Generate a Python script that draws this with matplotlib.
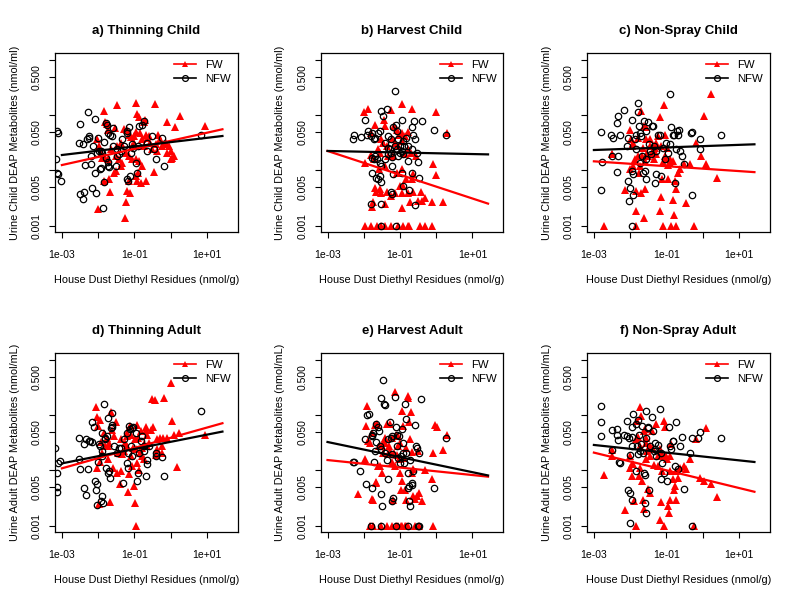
"""
House dust diethyl residues vs urine DEAP metabolites - 6 panel scatter
"""

import numpy as np
import matplotlib
matplotlib.use('Agg')
import matplotlib.pyplot as plt
from matplotlib.lines import Line2D

plt.rcParams['font.family'] = ['Liberation Sans', 'DejaVu Sans']

RED = '#FF0000'
BLACK = '#000000'

# Data: (log10 residue nmol/g, log10 metabolite nmol/ml)
A_FW = [(-1.83,-0.93),(-1.47,-0.81),(-0.96,-0.78),(-0.44,-0.80),(0.25,-1.02),(0.94,-1.19),(-0.11,-1.13),(0.13,-1.22),
        (-0.92,-0.98),(-0.87,-1.04),(-0.71,-1.08),(-0.72,-1.12),(-1.82,-1.12),(-1.76,-1.16),(-1.72,-1.27),(-1.53,-1.24),
        (-1.28,-1.25),(-1.21,-1.27),(-1.15,-1.35),(-1.10,-1.39),(-1.01,-1.38),(-0.96,-1.30),(-0.84,-1.32),(-0.78,-1.44),
        (-0.68,-1.35),(-0.64,-1.42),(-0.60,-1.38),(-0.57,-1.50),(-0.41,-1.53),(-0.35,-1.35),(-0.29,-1.44),(-0.24,-1.56),
        (-0.18,-1.53),(-0.14,-1.50),(-0.05,-1.56),(0.0,-1.65),(0.05,-1.77),(0.02,-1.80),(-0.09,-1.68),(-2.04,-1.44),
        (-1.97,-1.56),(-1.93,-1.68),(-1.88,-1.77),(-1.83,-1.74),(-1.74,-1.80),(-1.65,-1.62),(-1.51,-1.74),(-1.42,-1.80),
        (-1.33,-1.86),(-1.24,-1.68),(-1.15,-1.74),(-1.06,-1.80),(-0.96,-1.80),(-0.87,-1.83),(-0.78,-1.92),(-0.90,-2.04),
        (-1.56,-2.04),(-1.51,-2.01),(-1.70,-2.16),(-1.85,-2.19),(-1.38,-1.92),(-1.15,-2.19),(-0.96,-2.10),(-0.92,-2.19),
        (-0.83,-2.22),(-0.67,-2.19),(-0.46,-2.03),(-1.19,-2.38),(-1.13,-2.41),(-1.23,-2.58),(-1.25,-2.86),(-1.99,-2.70),
        (-1.67,-2.39),(-0.37,-1.65),(-0.50,-1.62),(0.09,-1.74),(-1.01,-1.50),(-1.47,-1.56),(-1.38,-1.50),(-1.06,-1.56),
        (-0.73,-1.56)]
A_NFW = [(-3.14,-1.28),(-3.10,-1.33),(-3.17,-1.80),(-3.14,-2.04),(-3.10,-2.07),(-3.03,-2.19),(-2.50,-1.16),(-2.54,-1.51),
         (-2.28,-0.95),(-2.09,-1.06),(-2.25,-1.38),(-2.31,-1.44),(-2.43,-1.53),(-2.14,-1.56),(-2.00,-1.41),(-1.97,-1.65),
         (-2.25,-1.42),(-2.35,-1.90),(-2.20,-1.88),(-2.08,-2.04),(-2.16,-2.32),(-2.05,-2.41),(-2.50,-2.42),(-2.40,-2.39),
         (-2.43,-2.51),(-1.86,-2.68),(-1.76,-1.18),(-1.79,-1.15),(-1.74,-1.32),(-1.83,-1.48),(-1.67,-1.35),(-1.60,-1.24),
         (-1.62,-1.38),(-1.93,-1.65),(-1.88,-1.69),(-1.78,-1.77),(-1.72,-1.85),(-1.74,-1.92),(-1.93,-1.95),(-1.95,-1.97),
         (-1.83,-2.21),(-1.69,-1.93),(-1.58,-1.56),(-1.49,-1.74),(-1.42,-1.71),(-1.33,-1.44),(-1.28,-1.56),(-1.19,-1.32),
         (-1.15,-1.21),(-1.21,-1.28),(-1.17,-2.19),(-1.21,-2.16),(-1.13,-2.10),(-1.07,-1.53),(-0.96,-1.87),(-0.92,-2.04),
         (-0.87,-1.19),(-0.78,-1.18),(-0.73,-1.10),(-0.64,-1.51),(-0.64,-1.65),(-0.50,-1.38),(-0.46,-1.62),(-0.39,-1.80),
         (-0.23,-1.41),(-0.17,-1.92),(0.85,-1.35),(-1.49,-1.62),(-1.36,-1.65),(-1.10,-1.68),(-0.90,-1.56),(-1.03,-1.59),
         (-2.02,-1.68),(-2.20,-1.74),(-1.51,-1.92)]

B_FW = [(-1.99,-0.94),(-1.89,-0.88),(-1.25,-0.91),(-0.93,-0.80),(-0.68,-0.88),(-0.01,-0.95),(0.31,-1.32),(-1.80,-1.32),
        (-1.69,-1.18),(-1.43,-1.08),(-1.40,-1.19),(-1.16,-1.19),(-1.09,-1.27),(-1.02,-1.35),(-0.93,-1.32),(-0.86,-1.38),
        (-0.79,-1.30),(-1.97,-1.86),(-1.80,-1.73),(-1.71,-1.80),(-1.60,-1.62),(-1.55,-1.68),(-1.51,-1.44),(-1.46,-1.50),
        (-1.37,-1.56),(-1.23,-1.44),(-1.14,-1.50),(-1.05,-1.56),(-0.95,-1.47),(-0.86,-1.71),(-0.79,-1.62),(-0.70,-1.68),
        (-0.68,-2.16),(-0.63,-2.07),(-0.57,-1.74),(-0.08,-1.89),(-0.00,-2.08),(-1.69,-2.32),(-1.65,-2.39),(-1.55,-2.33),
        (-1.51,-2.41),(-1.37,-2.39),(-1.25,-2.47),(-1.14,-2.41),(-1.00,-2.28),(-0.95,-2.41),(-0.91,-2.28),(-0.77,-2.41),
        (-0.63,-2.39),(-0.42,-2.39),(-0.31,-2.50),(-0.49,-2.56),(-0.40,-2.56),(-0.12,-2.57),(0.20,-2.57),(-1.78,-2.66),
        (-1.74,-2.58),(-1.40,-2.60),(-0.94,-2.69),(-0.71,-2.58),(-1.97,-3.0),(-1.80,-3.0),(-1.62,-3.0),(-1.51,-3.0),
        (-1.40,-3.0),(-1.25,-3.0),(-1.06,-3.0),(-0.91,-3.0),(-0.79,-3.0),(-0.75,-3.0),(-0.45,-3.0),(-0.31,-3.0),
        (-0.12,-3.0),(-1.58,-1.98),(-1.41,-1.92),(-1.09,-2.04),(-0.94,-1.98),(-0.82,-2.16),(-1.18,-1.74),(-1.32,-1.74)]
B_NFW = [(-2.29,-1.44),(-2.26,-1.36),(-2.08,-1.39),(-1.97,-1.08),(-1.92,-1.35),(-1.88,-1.28),(-1.80,-1.38),(-1.77,-1.33),
         (-1.71,-1.44),(-1.69,-1.41),(-1.60,-1.32),(-1.55,-1.28),(-1.51,-0.92),(-1.46,-1.01),(-1.37,-0.89),(-1.32,-1.38),
         (-1.25,-1.44),(-1.18,-1.22),(-1.14,-0.56),(-1.11,-1.18),(-1.09,-1.28),(-1.05,-1.44),(-1.00,-1.56),(-0.95,-1.08),
         (-0.91,-1.47),(-0.82,-1.41),(-0.77,-1.56),(-0.68,-1.22),(-0.65,-1.35),(-0.60,-1.10),(-0.59,-1.44),(-0.54,-1.68),
         (-0.51,-1.85),(-0.40,-1.10),(-0.05,-1.27),(0.27,-1.36),(-1.78,-1.77),(-1.71,-1.79),(-1.69,-1.74),(-1.62,-1.80),
         (-1.55,-1.86),(-1.51,-1.92),(-1.41,-1.80),(-1.34,-1.71),(-1.28,-1.62),(-1.25,-1.68),(-1.21,-1.75),(-1.14,-1.56),
         (-1.09,-1.62),(-1.05,-1.74),(-1.00,-1.68),(-0.95,-1.65),(-0.91,-1.71),(-0.88,-1.56),(-0.77,-1.83),(-0.68,-1.62),
         (-1.77,-2.05),(-1.65,-2.13),(-1.60,-2.16),(-1.51,-2.21),(-1.55,-2.10),(-1.25,-2.39),(-1.23,-2.42),(-1.18,-2.07),
         (-0.93,-2.04),(-0.91,-2.28),(-0.75,-2.35),(-0.68,-2.04),(-0.47,-2.13),(-0.59,-2.62),(-1.80,-2.61),(-1.51,-2.60),
         (-1.51,-3.0),(-1.12,-3.0),(-1.23,-1.92),(-1.41,-1.50),(-1.32,-1.59)]

C_FW = [(-2.72,-3.0),(-2.51,-1.71),(-2.49,-1.71),(-2.15,-2.35),(-2.01,-1.27),(-1.98,-1.44),(-1.96,-1.56),(-1.87,-1.80),
        (-1.84,-2.38),(-1.84,-3.0),(-1.83,-2.74),(-1.78,-1.41),(-1.73,-1.92),(-1.69,-2.41),(-1.69,-0.92),(-1.66,-1.74),
        (-1.64,-1.59),(-1.62,-2.86),(-1.62,-1.19),(-1.60,-2.33),(-1.57,-1.44),(-1.55,-1.22),(-1.53,-1.68),(-1.50,-1.74),
        (-1.46,-1.44),(-1.41,-1.68),(-1.35,-1.79),(-1.32,-1.59),(-1.28,-1.71),(-1.23,-1.38),(-1.18,-1.04),(-1.18,-2.74),
        (-1.14,-2.48),(-1.11,-2.16),(-1.09,-1.85),(-1.09,-3.0),(-1.07,-0.82),(-1.05,-1.35),(-1.00,-1.77),(-0.98,-1.59),
        (-0.95,-2.16),(-0.91,-1.80),(-0.86,-3.0),(-0.83,-1.83),(-0.82,-2.53),(-0.80,-2.80),(-0.77,-2.19),(-0.74,-2.33),
        (-0.72,-3.0),(-0.68,-2.04),(-0.63,-1.97),(-0.52,-1.88),(-0.47,-2.59),(-0.36,-1.89),(-0.24,-3.0),(-0.17,-1.51),
        (-0.04,-1.74),(0.03,-1.02),(0.10,-1.89),(0.24,-0.62),(0.39,-2.13),(-2.01,-1.98),(-1.92,-1.92),(-1.75,-2.04),
        (-1.60,-1.83),(-1.37,-1.65),(-1.14,-1.56),(-0.95,-1.91),(-0.91,-1.86),(-1.05,-1.74),(-1.28,-1.50),(-1.46,-1.56),
        (-1.78,-1.74),(-1.92,-1.50)]
C_NFW = [(-2.81,-1.30),(-2.79,-1.85),(-2.81,-2.35),(-2.53,-1.35),(-2.47,-1.42),(-2.49,-1.74),(-2.33,-1.74),(-2.36,-2.03),
         (-2.28,-1.36),(-2.35,-1.15),(-2.33,-1.01),(-2.17,-0.91),(-2.10,-1.56),(-2.06,-1.42),(-2.07,-2.19),(-2.03,-2.56),
         (-1.96,-2.01),(-1.99,-2.32),(-1.94,-1.08),(-1.92,-2.07),(-1.92,-2.44),(-1.94,-3.0),(-1.87,-1.44),(-1.84,-1.36),
         (-1.83,-1.62),(-1.78,-0.94),(-1.78,-0.77),(-1.75,-1.19),(-1.73,-1.32),(-1.69,-1.38),(-1.66,-1.74),(-1.64,-2.04),
         (-1.62,-1.10),(-1.60,-2.01),(-1.57,-2.16),(-1.55,-1.28),(-1.50,-1.12),(-1.48,-1.53),(-1.46,-1.65),(-1.43,-1.71),
         (-1.39,-1.19),(-1.37,-1.19),(-1.32,-2.22),(-1.28,-2.07),(-1.23,-1.35),(-1.18,-1.35),(-1.14,-2.10),(-1.05,-1.80),
         (-1.00,-1.50),(-0.91,-0.61),(-0.89,-1.53),(-0.86,-1.22),(-0.83,-1.35),(-0.80,-1.35),(-0.77,-2.22),(-0.72,-1.62),
         (-0.71,-1.28),(-0.68,-1.35),(-0.66,-1.27),(-0.63,-1.65),(-0.56,-1.74),(-0.50,-1.89),(-0.31,-1.32),(-0.28,-1.30),
         (-0.29,-2.45),(-0.06,-1.44),(-0.06,-1.62),(0.51,-1.36),(-1.73,-1.86),(-1.55,-1.80),(-1.35,-1.56),(-1.09,-1.59),
         (-1.28,-1.65),(-0.95,-1.68)]

D_FW = [(-2.06,-0.86),(-2.02,-1.04),(-1.94,-1.08),(-1.99,-1.19),(-1.93,-1.48),(-1.85,-1.32),(-1.82,-1.56),(-1.76,-1.42),
        (-1.72,-1.56),(-1.70,-1.50),(-1.65,-0.95),(-1.61,-1.27),(-1.56,-1.38),(-1.51,-1.12),(-1.47,-2.04),(-1.39,-2.24),
        (-1.36,-2.01),(-1.33,-1.71),(-1.27,-1.50),(-1.21,-1.56),(-1.21,-1.32),(-1.19,-1.38),(-1.17,-2.39),(-1.15,-2.07),
        (-1.12,-1.19),(-1.10,-1.36),(-1.08,-1.74),(-1.06,-1.92),(-1.01,-2.28),(-0.99,-2.59),(-0.96,-3.0),(-0.96,-1.62),
        (-0.94,-1.18),(-0.92,-1.86),(-0.90,-1.41),(-0.87,-2.00),(-0.84,-1.68),(-0.83,-1.28),(-0.78,-1.74),(-0.73,-1.79),
        (-0.72,-1.53),(-0.69,-1.27),(-0.67,-1.21),(-0.64,-1.35),(-0.60,-1.50),(-0.53,-1.27),(-0.50,-0.70),(-0.48,-1.21),
        (-0.44,-0.72),(-0.41,-1.73),(-0.37,-1.44),(-0.30,-1.42),(-0.23,-1.68),(-0.20,-1.41),(-0.17,-0.68),(-0.11,-1.41),
        (0.00,-0.41),(0.05,-1.10),(0.09,-1.35),(0.17,-1.93),(0.23,-1.32),(0.94,-1.36),(-2.02,-1.95),(-1.94,-1.85),
        (-1.88,-1.69),(-1.67,-2.58),(-1.74,-1.79),(-1.97,-2.60),(-1.58,-1.95),(-1.45,-1.68),(-1.28,-1.65),(-1.03,-1.59),
        (-0.78,-1.59),(-0.99,-1.44),(-1.36,-1.44),(-0.64,-1.56),(-0.37,-1.62),(-0.23,-1.56)]
D_NFW = [(-3.18,-1.59),(-3.12,-1.86),(-3.05,-1.83),(-3.14,-2.04),(-3.14,-2.30),(-3.14,-2.39),(-2.54,-1.42),(-2.52,-1.80),
         (-2.50,-1.98),(-2.40,-1.53),(-2.39,-2.32),(-2.34,-1.44),(-2.34,-2.44),(-2.28,-1.98),(-2.25,-1.47),(-2.22,-1.47),
         (-2.18,-1.48),(-2.16,-1.13),(-2.11,-1.22),(-2.08,-2.19),(-2.06,-2.35),(-2.04,-2.25),(-2.02,-2.62),(-2.00,-1.85),
         (-1.97,-1.53),(-1.95,-1.56),(-1.93,-2.56),(-1.90,-2.47),(-1.90,-1.32),(-1.88,-1.65),(-1.86,-2.59),(-1.83,-0.80),
         (-1.82,-1.44),(-1.81,-1.41),(-1.79,-1.95),(-1.76,-1.38),(-1.74,-1.05),(-1.72,-2.04),(-1.70,-2.01),(-1.67,-2.13),
         (-1.65,-1.24),(-1.63,-0.96),(-1.62,-1.18),(-1.61,-1.22),(-1.47,-1.68),(-1.42,-1.59),(-1.38,-1.59),(-1.30,-2.22),
         (-1.28,-1.44),(-1.21,-1.32),(-1.19,-1.86),(-1.17,-1.95),(-1.17,-1.68),(-1.15,-1.19),(-1.12,-1.25),(-1.10,-1.56),
         (-1.07,-1.24),(-1.03,-1.22),(-0.96,-1.32),(-0.92,-2.19),(-0.90,-2.04),(-0.87,-1.68),(-0.80,-1.38),(-0.73,-1.65),
         (-0.72,-1.56),(-0.69,-2.10),(-0.66,-1.81),(-0.64,-1.89),(-0.60,-1.56),(-0.41,-1.68),(-0.39,-1.74),(-0.23,-1.75),
         (-0.17,-2.10),(0.85,-0.92),(-0.83,-1.47),(-1.06,-1.74),(-1.56,-1.56),(-1.88,-1.74)]

E_FW = [(-2.17,-2.42),(-1.97,-1.80),(-1.92,-0.84),(-1.95,-1.19),(-1.88,-1.47),(-1.83,-1.50),(-1.78,-2.52),(-1.74,-2.53),
        (-1.76,-1.32),(-1.69,-1.18),(-1.67,-2.21),(-1.65,-2.22),(-1.62,-1.16),(-1.60,-1.92),(-1.58,-1.56),(-1.55,-1.92),
        (-1.51,-1.56),(-1.49,-2.05),(-1.46,-1.68),(-1.41,-1.50),(-1.40,-1.41),(-1.37,-1.16),(-1.34,-1.71),(-1.30,-1.56),
        (-1.28,-1.16),(-1.23,-1.85),(-1.21,-1.41),(-1.18,-2.53),(-1.16,-1.68),(-1.14,-0.58),(-1.12,-1.35),(-1.09,-1.73),
        (-1.06,-1.56),(-1.05,-1.38),(-1.03,-1.79),(-1.00,-2.04),(-0.97,-2.35),(-0.94,-2.19),(-0.93,-0.92),(-0.91,-1.19),
        (-0.88,-1.77),(-0.86,-2.35),(-0.82,-2.53),(-0.79,-0.68),(-0.77,-0.66),(-0.75,-1.12),(-0.72,-1.44),(-0.70,-0.95),
        (-0.68,-1.67),(-0.66,-2.04),(-0.63,-2.47),(-0.59,-2.52),(-0.54,-2.47),(-0.51,-1.65),(-0.47,-2.41),(-0.40,-2.56),
        (-0.31,-1.99),(-0.12,-2.16),(-0.10,-1.68),(-0.03,-1.18),(0.01,-1.22),(0.20,-1.63),(0.31,-1.35),(-1.83,-3.0),
        (-1.74,-3.0),(-1.51,-3.0),(-1.37,-3.0),(-1.23,-3.0),(-1.12,-3.0),(-1.05,-3.0),(-0.97,-3.0),(-0.94,-3.0),
        (-0.86,-3.0),(-0.82,-3.0),(-0.77,-3.0),(-0.59,-3.0),(-0.47,-3.0),(-0.08,-3.0),(-1.46,-1.51),(-1.28,-1.65),
        (-1.00,-1.50),(-0.82,-1.59),(-0.63,-1.98),(-1.14,-1.92)]
E_NFW = [(-2.29,-1.85),(-2.26,-1.85),(-2.11,-2.01),(-1.97,-1.44),(-1.94,-2.24),(-1.92,-1.00),(-1.86,-0.98),(-1.78,-1.38),
         (-1.76,-2.32),(-1.76,-1.35),(-1.74,-1.32),(-1.71,-1.85),(-1.69,-1.65),(-1.67,-1.48),(-1.65,-1.16),(-1.60,-1.21),
         (-1.58,-1.28),(-1.55,-1.56),(-1.53,-1.62),(-1.51,-0.68),(-1.51,-2.42),(-1.49,-2.64),(-1.46,-0.36),(-1.43,-0.80),
         (-1.40,-0.82),(-1.37,-1.81),(-1.34,-2.16),(-1.32,-1.44),(-1.28,-1.13),(-1.25,-1.41),(-1.23,-2.56),(-1.21,-1.38),
         (-1.18,-2.50),(-1.14,-0.67),(-1.12,-1.21),(-1.09,-1.35),(-1.05,-1.77),(-1.03,-1.38),(-1.00,-1.86),(-0.97,-1.74),
         (-0.95,-1.25),(-0.91,-1.68),(-0.88,-1.86),(-0.86,-0.80),(-0.84,-1.06),(-0.82,-1.68),(-0.79,-2.32),(-0.77,-2.04),
         (-0.75,-2.28),(-0.74,-2.56),(-0.72,-2.65),(-0.71,-1.81),(-0.68,-2.27),(-0.66,-2.22),(-0.63,-2.01),(-0.59,-1.18),
         (-0.57,-1.55),(-0.54,-1.59),(-0.47,-1.68),(-0.42,-0.70),(-0.05,-2.32),(0.27,-1.41),(-1.80,-3.0),(-1.51,-3.0),
         (-1.12,-3.0),(-0.79,-3.0),(-0.49,-3.0),(-0.47,-3.0),(-1.41,-1.68),(-1.09,-1.56),(-0.91,-1.50),(-1.23,-1.71)]

F_FW = [(-2.72,-2.09),(-2.51,-1.74),(-2.49,-1.63),(-2.15,-2.72),(-2.01,-1.74),(-1.99,-1.95),(-1.96,-1.89),(-1.94,-2.10),
        (-1.90,-2.56),(-1.84,-3.0),(-1.83,-1.44),(-1.81,-1.10),(-1.78,-1.39),(-1.75,-2.10),(-1.73,-1.56),(-1.72,-0.86),
        (-1.69,-1.01),(-1.66,-2.19),(-1.64,-2.53),(-1.62,-2.70),(-1.62,-1.28),(-1.60,-1.25),(-1.57,-1.41),(-1.55,-1.50),
        (-1.53,-1.65),(-1.50,-2.33),(-1.46,-1.74),(-1.44,-2.41),(-1.41,-1.28),(-1.39,-1.59),(-1.35,-1.91),(-1.28,-1.16),
        (-1.23,-1.74),(-1.18,-1.62),(-1.17,-2.89),(-1.14,-2.58),(-1.11,-2.01),(-1.09,-1.74),(-1.07,-1.10),(-1.06,-3.0),
        (-1.05,-1.22),(-1.02,-1.74),(-0.98,-1.80),(-0.95,-2.65),(-0.93,-2.77),(-0.91,-2.53),(-0.89,-2.01),(-0.86,-1.53),
        (-0.83,-2.16),(-0.80,-2.35),(-0.77,-2.28),(-0.74,-2.53),(-0.72,-2.01),(-0.68,-2.13),(-0.63,-1.95),(-0.52,-1.92),
        (-0.47,-1.98),(-0.36,-1.79),(-0.24,-3.0),(-0.17,-1.44),(-0.08,-2.13),(0.03,-2.19),(0.10,-1.24),(0.24,-2.25),
        (0.39,-2.48),(-1.73,-1.95),(-1.55,-1.79),(-1.37,-1.62),(-1.92,-1.89),(-1.14,-1.69),(-0.91,-1.74),(-1.46,-1.56),
        (-1.23,-1.92)]
F_NFW = [(-2.81,-0.84),(-2.81,-1.13),(-2.81,-1.38),(-2.51,-1.27),(-2.49,-1.63),(-2.36,-1.25),(-2.35,-1.35),(-2.33,-1.45),
         (-2.30,-1.85),(-2.28,-1.87),(-2.17,-1.36),(-2.10,-1.10),(-2.08,-1.38),(-2.04,-1.42),(-2.01,-1.73),(-2.01,-2.96),
         (-2.06,-2.35),(-2.01,-2.41),(-1.96,-2.53),(-1.96,-1.39),(-1.94,-1.22),(-1.94,-1.56),(-1.92,-0.98),(-1.84,-2.01),
         (-1.83,-1.16),(-1.81,-1.56),(-1.78,-1.08),(-1.78,-1.71),(-1.75,-1.35),(-1.73,-1.65),(-1.69,-1.53),(-1.66,-1.19),
         (-1.62,-2.04),(-1.60,-2.09),(-1.57,-0.92),(-1.55,-1.41),(-1.52,-1.22),(-1.50,-1.24),(-1.48,-2.35),(-1.46,-1.56),
         (-1.39,-1.04),(-1.37,-1.28),(-1.35,-1.65),(-1.32,-1.62),(-1.30,-1.51),(-1.28,-1.74),(-1.23,-1.54),(-1.18,-0.89),
         (-1.14,-2.15),(-1.11,-1.86),(-1.06,-2.05),(-0.98,-2.19),(-0.93,-1.22),(-0.91,-1.56),(-0.86,-1.62),(-0.83,-1.47),
         (-0.82,-1.47),(-0.77,-1.92),(-0.72,-1.13),(-0.68,-1.98),(-0.61,-1.56),(-0.56,-1.39),(-0.52,-2.33),(-0.36,-1.68),
         (-0.29,-3.0),(-0.28,-1.42),(-0.13,-1.41),(-0.06,-1.30),(0.51,-1.42),(-1.60,-2.59),(-1.57,-2.77),(-1.64,-1.68),
         (-1.14,-1.68)]

# fitted lines: values at x = 0.001 and x = 27 nmol/g
LINE_X = [0.001, 27]
FIT_FW = {'a': [0.0125, 0.0556], 'b': [0.0225, 0.0025], 'c': [0.0146, 0.0093],
          'd': [0.0109, 0.0716], 'e': [0.0154, 0.0077], 'f': [0.0210, 0.0041]}
FIT_NFW = {'a': [0.019, 0.042], 'b': [0.0225, 0.0195], 'c': [0.0234, 0.0297],
           'd': [0.0134, 0.0505], 'e': [0.0327, 0.0081], 'f': [0.0289, 0.0142]}

TITLES = {'a': 'a) Thinning Child', 'b': 'b) Harvest Child', 'c': 'c) Non-Spray Child',
          'd': 'd) Thinning Adult', 'e': 'e) Harvest Adult', 'f': 'f) Non-Spray Adult'}
SERIES = {'a': (A_FW, A_NFW), 'b': (B_FW, B_NFW), 'c': (C_FW, C_NFW),
          'd': (D_FW, D_NFW), 'e': (E_FW, E_NFW), 'f': (F_FW, F_NFW)}

X_TICKS = [1e-3, 1e-2, 1e-1, 1e0, 1e1]
X_LABELS = ['1e-03', '', '1e-01', '', '1e+01']
Y_TICKS = [0.001, 0.005, 0.01, 0.05, 0.1, 0.5, 1.0]
Y_LABELS = ['0.001', '0.005', '', '0.050', '', '0.500', '']

fig = plt.figure(figsize=(8, 6), dpi=100, facecolor='white')

lefts = [0.069, 0.401, 0.734]
bottoms = [0.613, 0.113]
W, H = 0.228, 0.298

for i, key in enumerate('abcdef'):
    row, col = divmod(i, 3)
    ax = fig.add_axes([lefts[col], bottoms[row], W, H])
    fw, nfw = SERIES[key]
    fw = 10 ** np.array(fw)
    nfw = 10 ** np.array(nfw)

    ax.plot(fw[:, 0], fw[:, 1], linestyle='none', marker='^', ms=5.2,
            color=RED, markeredgewidth=0, zorder=2)
    ax.plot(nfw[:, 0], nfw[:, 1], linestyle='none', marker='o', ms=4.6,
            markerfacecolor='none', markeredgecolor=BLACK, markeredgewidth=0.9, zorder=3)
    ax.plot(LINE_X, FIT_FW[key], color=RED, lw=1.6, zorder=4)
    ax.plot(LINE_X, FIT_NFW[key], color=BLACK, lw=1.6, zorder=4)

    ax.set_xscale('log')
    ax.set_yscale('log')
    ax.set_xlim(10 ** -3.185, 10 ** 1.85)
    ax.set_ylim(10 ** -3.12, 10 ** 0.12)
    ax.set_xticks(X_TICKS)
    ax.set_xticklabels(X_LABELS)
    ax.set_yticks(Y_TICKS)
    ax.set_yticklabels(Y_LABELS, rotation=90, va='center')
    ax.minorticks_off()
    ax.tick_params(axis='x', length=4.5, width=0.8, pad=8, labelsize=7.5)
    ax.tick_params(axis='y', length=4.5, width=0.8, pad=5, labelsize=7.5)
    for s in ax.spines.values():
        s.set_linewidth(0.9)

    ax.set_title(TITLES[key], fontsize=9.5, fontweight='bold', pad=14)
    ax.set_xlabel('House Dust Diethyl Residues (nmol/g)', fontsize=7.8, labelpad=11)
    who = 'Child' if row == 0 else 'Adult'
    unit = 'nmol/ml' if row == 0 else 'nmol/mL'
    ax.set_ylabel(f'Urine {who} DEAP Metabolites ({unit})', fontsize=7.8, labelpad=9)

    handles = [Line2D([], [], color=RED, lw=1.2, marker='^', ms=4.6, markeredgewidth=0),
               Line2D([], [], color=BLACK, lw=1.2, marker='o', ms=4.2,
                      markerfacecolor='none', markeredgewidth=0.9)]
    ax.legend(handles, ['FW', 'NFW'], loc='upper right', frameon=False, fontsize=8.2,
              handlelength=1.9, handletextpad=0.85, labelspacing=0.4,
              borderaxespad=0.2, borderpad=0.35, numpoints=1)

plt.savefig('out.png', dpi=100, facecolor='white')
plt.close()
